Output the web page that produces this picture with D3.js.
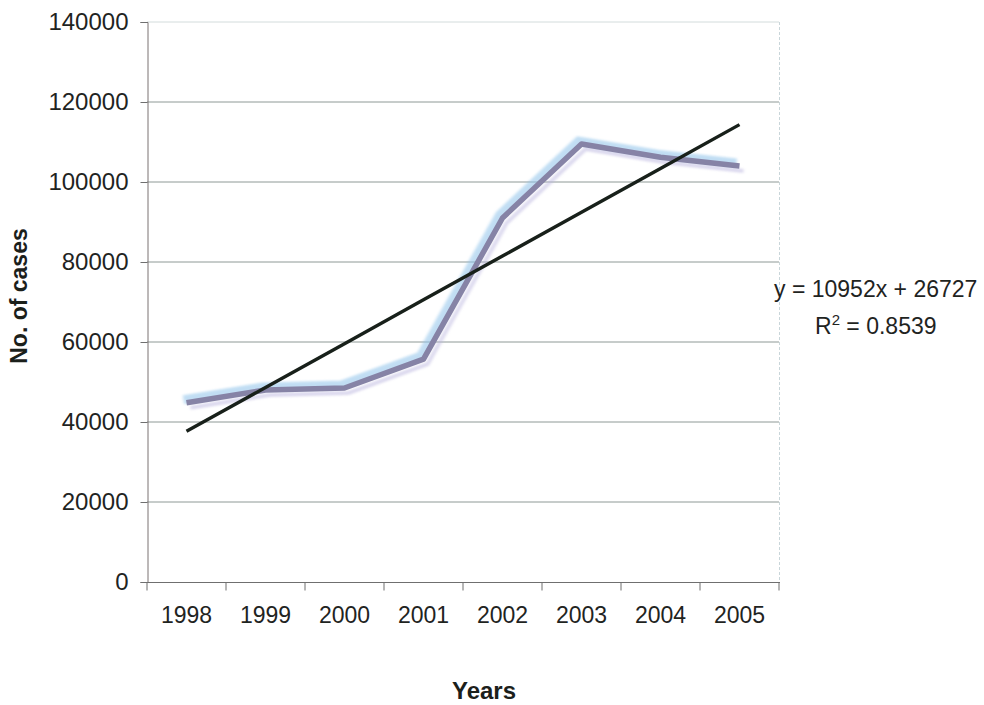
<!DOCTYPE html>
<html>
<head>
<meta charset="utf-8">
<script src="https://cdn.jsdelivr.net/npm/d3@7"></script>
<style>
  body { margin: 0; background: #fff; }
  svg { display: block; font-family: "Liberation Sans", Arial, sans-serif; }
</style>
</head>
<body>
<svg id="chart" width="984" height="705"></svg>
<script>
// values
var years = ["1998", "1999", "2000", "2001", "2002", "2003", "2004", "2005"];
var cases = [44800, 48000, 48500, 55700, 91000, 109500, 106200, 104000];
var yTicks = [0, 20000, 40000, 60000, 80000, 100000, 120000, 140000];

// linear trendline as printed on the chart
var slope = 10952, intercept = 26727;
var eqText = "y = 10952x + 26727";
var r2Text = "0.8539";

var svg = d3.select("#chart");

var x = d3.scaleBand().domain(years).range([147, 779]);
var y = d3.scaleLinear().domain([0, 140000]).range([582, 22]);
var cx = function(d){ return x(d) + x.bandwidth() / 2; };

// blur for the smeared scan look of the series line
var defs = svg.append("defs");
defs.append("filter").attr("id", "smear")
  .attr("x", "-5%").attr("y", "-20%").attr("width", "110%").attr("height", "140%")
  .append("feGaussianBlur").attr("stdDeviation", "1.6 1");

// gridlines
svg.append("g").selectAll("line")
  .data(yTicks.filter(function(t){ return t > 0; }))
  .enter().append("line")
  .attr("x1", 147).attr("x2", 779)
  .attr("y1", function(d){ return y(d); }).attr("y2", function(d){ return y(d); })
  .attr("stroke", function(d){ return d === 140000 ? "#d3dcdc" : "#8e9996"; })
  .attr("stroke-width", 1);

// faint right border of the plot area
svg.append("line")
  .attr("x1", 779.5).attr("x2", 779.5).attr("y1", 22).attr("y2", 582)
  .attr("stroke", "#c9d6da").attr("stroke-dasharray", "3,2");

// y axis
var yAxis = svg.append("g")
  .attr("transform", "translate(147.5,0)")
  .call(d3.axisLeft(y).tickValues(yTicks).tickSize(7).tickPadding(12).tickFormat(d3.format("d")));
yAxis.select(".domain").attr("stroke", "#7a7272");
yAxis.selectAll(".tick line").attr("stroke", "#6f6f6f");
yAxis.selectAll("text").attr("font-size", 24).attr("fill", "#1f241f");

// x axis: labels centred in bands, tick marks on band boundaries
var xAxis = svg.append("g")
  .attr("transform", "translate(0,582.5)")
  .call(d3.axisBottom(x).tickSize(0).tickPadding(24));
xAxis.select(".domain").attr("stroke", "#6f6f6f").attr("d", "M142,0H780");
xAxis.selectAll("text").attr("font-size", 23).attr("fill", "#1f241f");
xAxis.append("g").selectAll("line")
  .data(years.concat(["end"]))
  .enter().append("line")
  .attr("x1", function(d){ return d === "end" ? 779 : x(d); })
  .attr("x2", function(d){ return d === "end" ? 779 : x(d); })
  .attr("y1", 0).attr("y2", 8)
  .attr("stroke", "#6f6f6f");

// data series: blurred blue halo under a grey-violet core line
var line = d3.line()
  .x(function(d, i){ return cx(years[i]); })
  .y(function(d){ return y(d); });

svg.append("path").datum(cases)
  .attr("d", line).attr("fill", "none")
  .attr("stroke", "#8fc3ea").attr("stroke-width", 9).attr("opacity", 0.55)
  .attr("transform", "translate(-3,-3)")
  .attr("filter", "url(#smear)");
svg.append("path").datum(cases)
  .attr("d", line).attr("fill", "none")
  .attr("stroke", "#b9b4de").attr("stroke-width", 4).attr("opacity", 0.5)
  .attr("transform", "translate(4,5)")
  .attr("filter", "url(#smear)");
svg.append("path").datum(cases)
  .attr("d", line).attr("fill", "none")
  .attr("stroke", "#8683a6").attr("stroke-width", 5.5)
  .attr("stroke-linejoin", "round");

// trendline
var trend = years.map(function(d, i){ return slope * (i + 1) + intercept; });
svg.append("path").datum(trend)
  .attr("d", line).attr("fill", "none")
  .attr("stroke", "#18201a").attr("stroke-width", 3.4);

// equation
svg.append("text")
  .attr("x", 774).attr("y", 297)
  .attr("font-size", 23).attr("fill", "#1f241f")
  .text(eqText);
var r2 = svg.append("text")
  .attr("x", 815).attr("y", 334)
  .attr("font-size", 23).attr("fill", "#1f241f");
r2.append("tspan").text("R");
r2.append("tspan").attr("font-size", 15).attr("dy", -9).text("2");
r2.append("tspan").attr("dy", 9).text(" = " + r2Text);

// axis titles
svg.append("text")
  .attr("x", 484).attr("y", 699)
  .attr("text-anchor", "middle")
  .attr("font-size", 24).attr("font-weight", "bold").attr("fill", "#1b201b")
  .text("Years");
svg.append("text")
  .attr("transform", "translate(27,296) rotate(-90)")
  .attr("text-anchor", "middle")
  .attr("font-size", 23).attr("font-weight", "bold").attr("fill", "#1b201b")
  .text("No. of cases");
</script>
</body>
</html>
